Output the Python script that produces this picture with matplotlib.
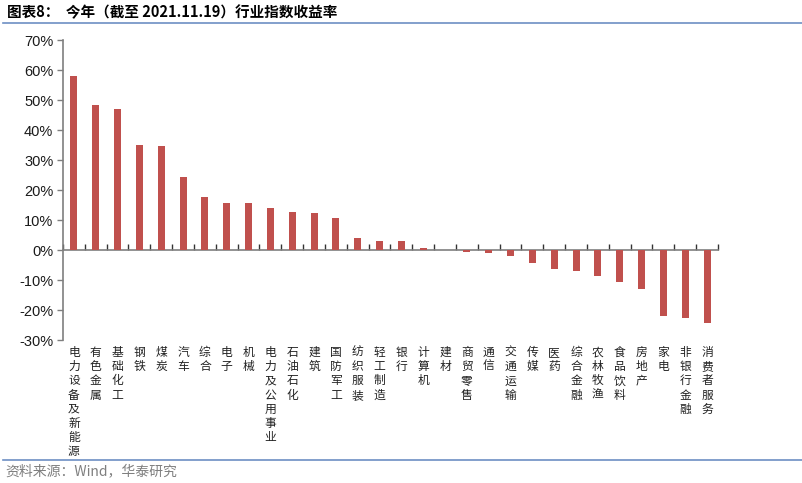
import matplotlib
matplotlib.use("Agg")
import matplotlib.pyplot as plt
import matplotlib.transforms as mtransforms
import numpy as np
from matplotlib.ticker import FuncFormatter, FixedLocator

plt.rcParams['font.family'] = ['Liberation Sans', 'Noto Sans CJK SC', 'DejaVu Sans']

# industry index returns, YTD to 2021-11-19 (%)
industries = ['电力设备及新能源', '有色金属', '基础化工', '钢铁', '煤炭', '汽车', '综合',
              '电子', '机械', '电力及公用事业', '石油石化', '建筑', '国防军工', '纺织服装',
              '轻工制造', '银行', '计算机', '建材', '商贸零售', '通信', '交通运输', '传媒',
              '医药', '综合金融', '农林牧渔', '食品饮料', '房地产', '家电', '非银行金融',
              '消费者服务']
returns = [58.1, 48.4, 46.9, 34.9, 34.6, 24.3, 17.8, 15.7, 15.6, 14.0, 12.7, 12.3,
           10.6, 4.0, 2.9, 2.9, 0.7, 0.1, -0.7, -0.9, -1.9, -4.4, -6.3, -6.9, -8.8,
           -10.6, -13.0, -22.1, -22.8, -24.2]
yticks = [-30, -20, -10, 0, 10, 20, 30, 40, 50, 60, 70]

bar_color = '#C0504D'
axis_color = '#7F7F7F'
rule_color = '#6D8FC4'

fig = plt.figure(figsize=(8.03, 4.83), dpi=100)
ax = fig.add_axes([63 / 803, 1 - 340 / 483, (718 - 63) / 803, 300 / 483])

x = np.arange(len(industries))
ax.bar(x, returns, width=0.32, color=bar_color, zorder=3)

ax.set_xlim(-0.5, len(industries) - 0.5)
ax.set_ylim(-30, 70)
ax.set_yticks(yticks)
ax.yaxis.set_major_formatter(FuncFormatter(lambda v, p: f'{v:.0f}%'))
ax.tick_params(axis='y', direction='out', length=4, width=1, color=axis_color,
               labelsize=10.5, labelcolor='#1a1a1a', pad=3)

# zero line with category-boundary ticks pointing up
for side in ['top', 'right']:
    ax.spines[side].set_visible(False)
ax.spines['bottom'].set_position(('data', 0))
ax.spines['bottom'].set_color(axis_color)
ax.spines['left'].set_color(axis_color)
ax.spines['bottom'].set_linewidth(1.2)
ax.spines['left'].set_linewidth(1.2)
ax.xaxis.set_major_locator(FixedLocator(np.arange(len(industries) + 1) - 0.5))
ax.tick_params(axis='x', direction='in', length=4, width=1, color='#333333',
               labelbottom=False)

# vertical category labels below the plot
trans = mtransforms.blended_transform_factory(ax.transData, ax.transAxes)
for xi, name in zip(x, industries):
    ax.text(xi, -0.02, '\n'.join(name), transform=trans, ha='center', va='top',
            fontsize=8.5, linespacing=1.12, color='#222222',
            family=['Noto Sans CJK SC', 'DejaVu Sans'])

# title and source
fig.text(7 / 803, 1 - 12 / 483, '图表8：  今年（截至 2021.11.19）行业指数收益率',
         fontsize=10.5, fontweight='bold', va='center', ha='left',
         family=['Noto Sans CJK SC', 'DejaVu Sans'])
fig.add_artist(plt.Line2D([3 / 803, 1], [1 - 23 / 483, 1 - 23 / 483],
                          color=rule_color, lw=1.2, transform=fig.transFigure))
fig.add_artist(plt.Line2D([3 / 803, 1], [1 - 460 / 483, 1 - 460 / 483],
                          color=rule_color, lw=1.2, transform=fig.transFigure))
fig.text(5 / 803, 1 - 471 / 483, '资料来源：Wind，华泰研究', fontsize=10,
         color='#7F7F7F', va='center', ha='left',
         family=['Noto Sans CJK SC', 'DejaVu Sans'])

fig.savefig('out.png', dpi=100)
